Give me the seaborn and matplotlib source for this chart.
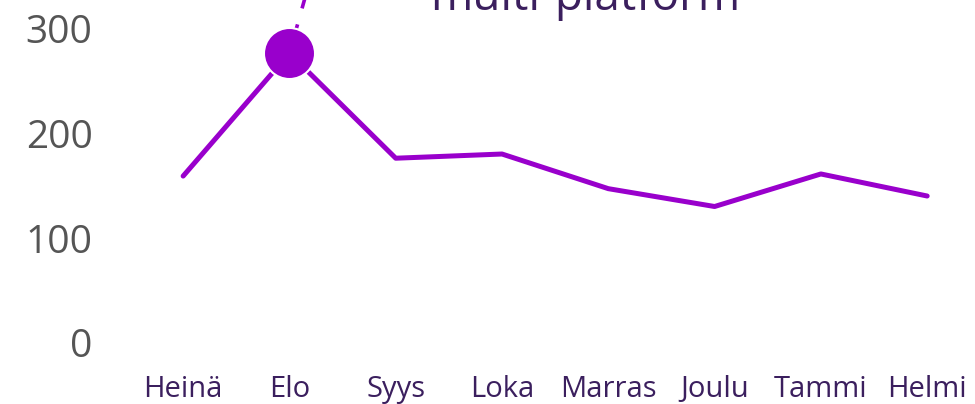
import matplotlib
matplotlib.use("Agg")
import matplotlib.pyplot as plt
import pandas as pd
import seaborn as sns

# data
months = ["Heinä", "Elo", "Syys", "Loka", "Marras", "Joulu", "Tammi", "Helmi"]
values = [159, 276, 176, 180, 147, 130, 161, 140]
highlight_month = "Elo"
annotation_text = "multi-platform"
y_ticks = [0, 100, 200, 300]

LINE = "#9900CC"
DARK = "#3B1F5E"
GREY = "#555555"

df = pd.DataFrame({"month": months, "value": values})
df["pos"] = range(len(df))

sns.set_theme(style="white")
plt.rcParams["font.family"] = ["Open Sans", "DejaVu Sans"]

fig = plt.figure(figsize=(9.75, 4.04), dpi=100)
ax = fig.add_axes([130 / 975, 44 / 404, 845 / 975, 360 / 404])

sns.lineplot(data=df, x="pos", y="value", color=LINE, linewidth=3.6,
             solid_capstyle="round", ax=ax, zorder=2)

hl = df[df["month"] == highlight_month]
hx, hy = hl["pos"].iloc[0], hl["value"].iloc[0]

# dashed leader from the highlighted point up to the (cropped) label
ax.plot([hx, hx + 0.4], [hy, 420], color=LINE, linewidth=2.6,
        linestyle=(0, (8.3, 4.6)), clip_on=False, zorder=1)
sns.scatterplot(data=hl, x="pos", y="value", color=LINE, s=1350,
                edgecolor="white", linewidth=1.5, ax=ax, zorder=3,
                clip_on=False, legend=False)

ax.text(3.78, 317, annotation_text, color=DARK, fontsize=33,
        ha="center", va="baseline", clip_on=False)

ax.set_xlim(-0.5, 7.45)
ax.set_ylim(-16.2, 326.7)
ax.set_xticks(df["pos"])
ax.set_xticklabels(months, color=DARK, fontsize=21)
ax.set_yticks(y_ticks)
ax.set_yticklabels([str(t) for t in y_ticks], color=GREY, fontsize=28)
ax.tick_params(axis="y", length=0, pad=27)
ax.tick_params(axis="x", length=0, pad=11)
ax.set_xlabel("")
ax.set_ylabel("")
sns.despine(ax=ax, left=True, bottom=True)

fig.savefig("out.png", dpi=100)
